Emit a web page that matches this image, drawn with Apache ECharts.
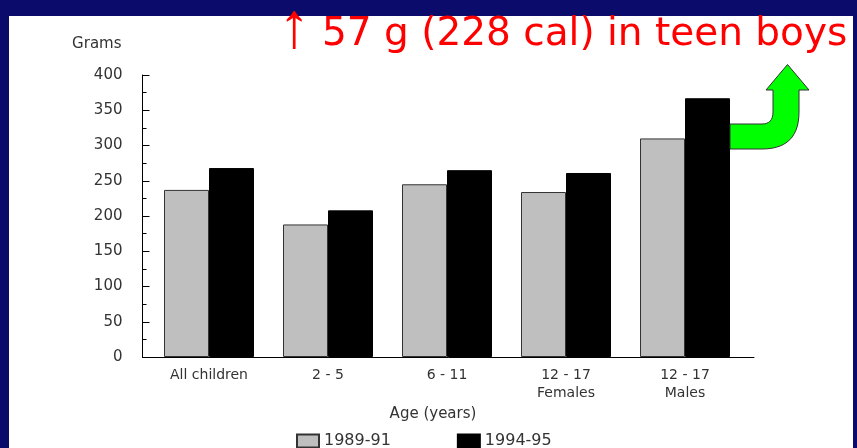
<!DOCTYPE html>
<html>
<head>
<meta charset="utf-8">
<script src="https://cdn.jsdelivr.net/npm/echarts@6/dist/echarts.min.js"></script>
<style>html,body{margin:0;padding:0;background:#0b0b6b;}#c{width:857px;height:448px;}</style>
</head>
<body>
<div id="c"></div>
<script>
// ---- data ----
const categories = ['All children', '2 - 5', '6 - 11', '12 - 17\nFemales', '12 - 17\nMales'];
const seriesNames = ['1989-91', '1994-95'];
const values8991 = [237, 188, 245, 234, 310];
const values9495 = [268, 208, 265, 261, 367];
const yMin = 0, yMax = 400, yInterval = 50;
const titleText = '57 g (228 cal) in teen boys';
const titleArrow = '\u2191';
const yName = 'Grams';
const xName = 'Age (years)';

const FONT = '"DejaVu Sans", "Liberation Sans", sans-serif';
const TXT = '#333333';

// green curved annotation arrow outline (decorative shape)
function quad(p0, c, p1, n) {
  const pts = [];
  for (let i = 1; i <= n; i++) {
    const t = i / n, u = 1 - t;
    pts.push([u * u * p0[0] + 2 * u * t * c[0] + t * t * p1[0], u * u * p0[1] + 2 * u * t * c[1] + t * t * p1[1]]);
  }
  return pts;
}
const arrowPts = [[730, 124], [762, 124]]
  .concat(quad([762, 124], [773, 124], [773, 112], 8))
  .concat([[773, 90], [766, 90], [787.5, 64.5], [809, 90], [799, 90], [799, 112]])
  .concat(quad([799, 112], [799, 149], [762, 149], 14))
  .concat([[730, 149]]);

const chart = echarts.init(document.getElementById('c'), null, {renderer: 'canvas'});
chart.setOption({
  backgroundColor: '#0b0b6b',
  animation: false,
  graphic: [
    {type: 'rect', z: -100, shape: {x: 9, y: 16, width: 844, height: 432}, style: {fill: '#ffffff'}},
    {type: 'text', z: 100, x: 294, y: 29.5, style: {text: titleArrow, fontSize: 64, fontFamily: '"Liberation Sans", "DejaVu Sans", sans-serif', fill: '#ff0000', align: 'center', verticalAlign: 'middle'}},
    {type: 'text', z: 100, x: 322, y: 35, style: {text: titleText, fontSize: 39, fontFamily: FONT, fill: '#ff0000', align: 'left', verticalAlign: 'middle'}},
    {type: 'polygon', z: 100, shape: {points: arrowPts},
      style: {fill: '#00ff00', stroke: '#333333', lineWidth: 1}}
  ],
  legend: {
    left: 296, top: 433, padding: 0, itemWidth: 22, itemHeight: 13, itemGap: 66,
    icon: 'rect',
    data: seriesNames,
    textStyle: {fontSize: 16, fontFamily: FONT, color: TXT}
  },
  grid: [
    {left: 149.5, right: 112.5, top: 75, bottom: 91},
    {left: 142.5, right: 103, top: 75, bottom: 91}
  ],
  xAxis: [
    {
      type: 'category', gridIndex: 0, data: categories,
      axisLine: {show: false}, axisTick: {show: false},
      axisLabel: {margin: 9, fontSize: 14, fontFamily: FONT, color: TXT, lineHeight: 18},
      name: xName, nameLocation: 'middle', nameGap: 42,
      nameTextStyle: {fontSize: 15, fontFamily: FONT, color: TXT, padding: [0, 28, 0, 0]}
    },
    {
      type: 'value', gridIndex: 1, min: 0, max: 1,
      axisLine: {show: true, lineStyle: {color: '#000', width: 1}},
      axisTick: {show: false}, axisLabel: {show: false}, splitLine: {show: false}
    }
  ],
  yAxis: [
    {
      type: 'value', gridIndex: 0, min: yMin, max: yMax, interval: yInterval, offset: 7,
      axisLine: {show: true, lineStyle: {color: '#000', width: 1}},
      axisTick: {show: true, inside: true, length: 7, lineStyle: {color: '#000'}},
      minorTick: {show: true, splitNumber: 2, length: 4, lineStyle: {color: '#000'}},
      splitLine: {show: false},
      axisLabel: {margin: 20, fontSize: 15, fontFamily: FONT, color: TXT},
      name: yName, nameLocation: 'end', nameGap: 23,
      nameTextStyle: {fontSize: 15, fontFamily: FONT, color: TXT, align: 'right', padding: [0, 21, 0, 0]}
    },
    {type: 'value', gridIndex: 1, show: false, min: 0, max: 1}
  ],
  series: [
    {
      name: seriesNames[0], type: 'bar', xAxisIndex: 0, yAxisIndex: 0,
      data: values8991, barWidth: 45, barGap: '0%',
      itemStyle: {color: '#bfbfbf', borderColor: '#333333', borderWidth: 1}
    },
    {
      name: seriesNames[1], type: 'bar', xAxisIndex: 0, yAxisIndex: 0,
      data: values9495, barWidth: 45, barGap: '0%',
      itemStyle: {color: '#000000', borderColor: '#000000', borderWidth: 1}
    }
  ]
});
</script>
</body>
</html>
